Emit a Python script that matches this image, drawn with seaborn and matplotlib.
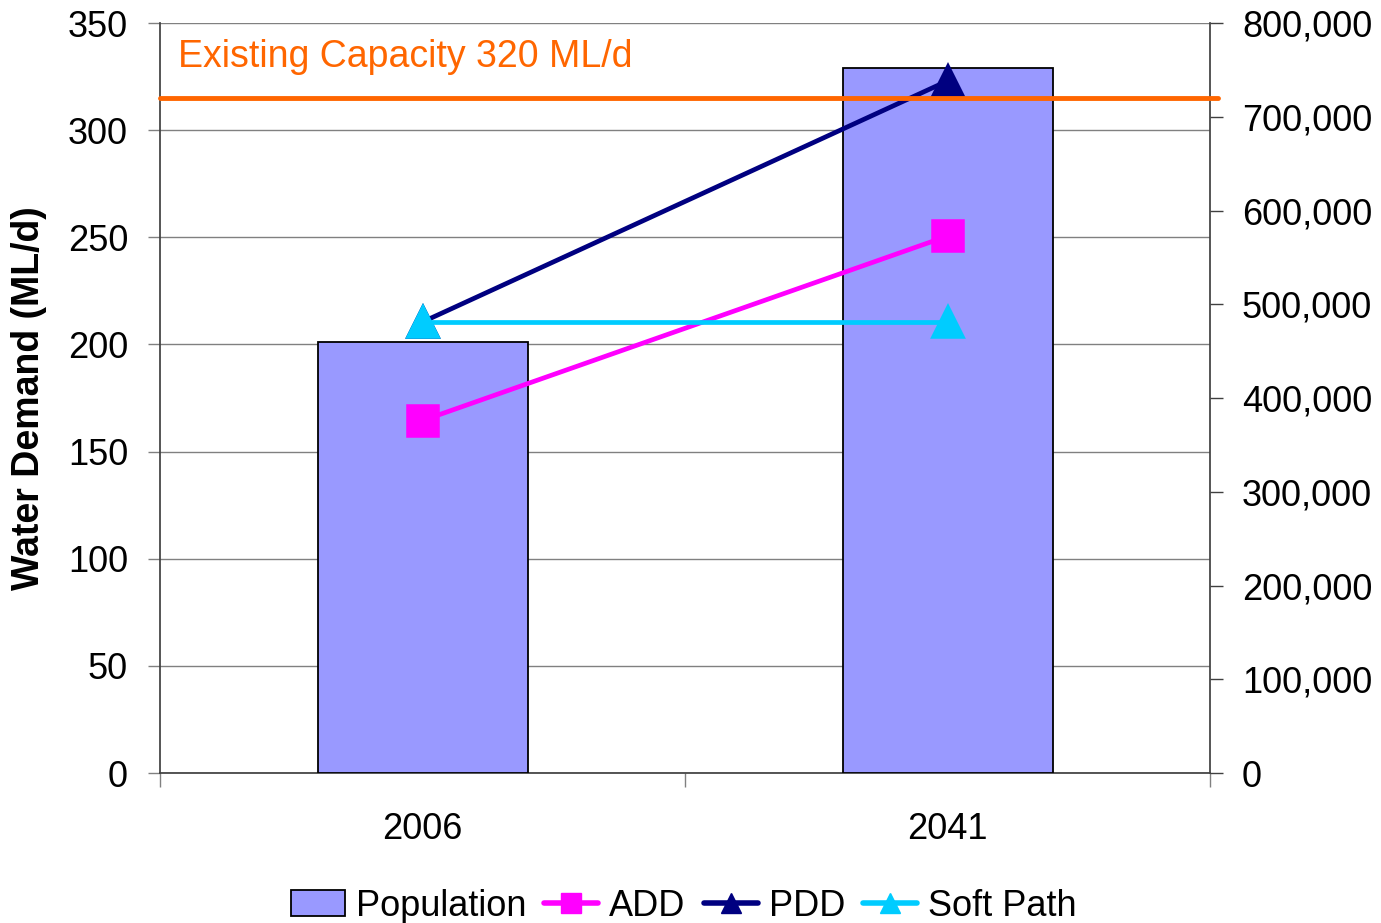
import pandas as pd
import seaborn as sns
import matplotlib
matplotlib.use('Agg')
import matplotlib.pyplot as plt
from matplotlib.patches import Patch
from matplotlib.lines import Line2D
from matplotlib.ticker import FuncFormatter, FixedLocator

# Data
years = ['2006', '2041']
population = [460000, 752000]
add = [164.5, 250.6]
pdd = [210.5, 323]
soft_path = [210.5, 210.5]
capacity = 315
capacity_label = 'Existing Capacity 320 ML/d'

df = pd.DataFrame({'Year': years, 'Population': population,
                   'ADD': add, 'PDD': pdd, 'Soft Path': soft_path})

sns.set_theme(style='white')
plt.rcParams['font.family'] = ['Liberation Sans', 'DejaVu Sans']
plt.rcParams['text.color'] = 'black'
plt.rcParams['axes.labelcolor'] = 'black'

FS = 26
bar_color = '#9999FF'
add_color = '#FF00FF'
pdd_color = '#000080'
soft_color = '#00CCFF'
cap_color = '#FF6600'

fig, ax = plt.subplots(figsize=(13.81, 9.23), dpi=100)
fig.subplots_adjust(left=0.1159, right=0.8762, top=0.975, bottom=0.1625)

# back axis: water demand scale + gridlines
ax.set_ylim(0, 350)
ax.set_yticks(range(0, 351, 50))
ax.grid(axis='y', color='#808080', linewidth=1)
ax.grid(axis='x', visible=False)

# middle axis: population bars
ax2 = ax.twinx()
sns.barplot(data=df, x='Year', y='Population', color=bar_color, width=0.4,
            edgecolor='black', linewidth=1.3, saturation=1, ax=ax2)
ax2.set_ylim(0, 800000)
ax2.set_yticks(range(0, 800001, 100000))
ax2.yaxis.set_major_formatter(FuncFormatter(lambda v, p: f'{int(v):,}'))
ax2.set_ylabel('')
ax2.patch.set_visible(False)

# front axis: demand lines, same scale as back axis
ax3 = ax.twinx()
ax3.patch.set_visible(False)
for col, color, marker in [('ADD', add_color, 's'), ('PDD', pdd_color, '^'),
                           ('Soft Path', soft_color, '^')]:
    sns.pointplot(data=df, x='Year', y=col, color=color, markers=marker,
                  markersize=22, linewidth=3.4, ax=ax3)
ax3.set_ylim(0, 350)
ax3.set_yticks([])
ax3.set_ylabel('')
ax3.axhline(capacity, xmin=0, xmax=1.008, color=cap_color, linewidth=3.5,
            clip_on=False, zorder=5)
ax3.text(0.017, 0.955, capacity_label, transform=ax3.transAxes, color=cap_color,
         fontsize=27, ha='left', va='center')

for a in (ax, ax2, ax3):
    a.set_xlim(-0.5, 1.5)
    for s in a.spines.values():
        s.set_visible(False)

ax.spines['left'].set_visible(True)
ax.spines['left'].set_color('#404040')
ax.spines['bottom'].set_visible(True)
ax.spines['bottom'].set_color('#404040')
ax2.spines['right'].set_visible(True)
ax2.spines['right'].set_color('#404040')

# ticks
ax.tick_params(axis='y', left=True, length=9, width=1, color='#808080',
               labelsize=FS, labelcolor='black', pad=14)
ax2.tick_params(axis='y', right=True, length=9, width=1, color='#404040',
                labelsize=FS, labelcolor='black', pad=14)
ax.xaxis.set_minor_locator(FixedLocator([-0.5, 0.5, 1.5]))
ax.tick_params(axis='x', which='minor', bottom=True, length=10, width=1, color='#808080')
ax.set_xticks([0, 1])
ax.set_xticklabels(years)
ax.tick_params(axis='x', which='major', length=0, labelsize=FS, labelcolor='black', pad=28)
ax2.tick_params(axis='x', which='both', length=0, labelbottom=False)
ax3.tick_params(axis='x', which='both', length=0, labelbottom=False)
ax2.set_xlabel('')
ax3.set_xlabel('')
ax.set_xlabel('')

ax.set_ylabel('Water Demand (ML/d)', fontsize=27, fontweight='bold', labelpad=15,
              color='black')

handles = [Patch(facecolor=bar_color, edgecolor='black', linewidth=1.3),
           Line2D([], [], color=add_color, lw=4, marker='s', markersize=15),
           Line2D([], [], color=pdd_color, lw=4, marker='^', markersize=15),
           Line2D([], [], color=soft_color, lw=4, marker='^', markersize=15)]
fig.legend(handles, ['Population', 'ADD', 'PDD', 'Soft Path'], loc='lower center',
           bbox_to_anchor=(0.495, -0.036), ncol=4, frameon=False, fontsize=FS,
           handlelength=1.5, handletextpad=0.3, columnspacing=0.5)

fig.savefig('out.png', dpi=100)
